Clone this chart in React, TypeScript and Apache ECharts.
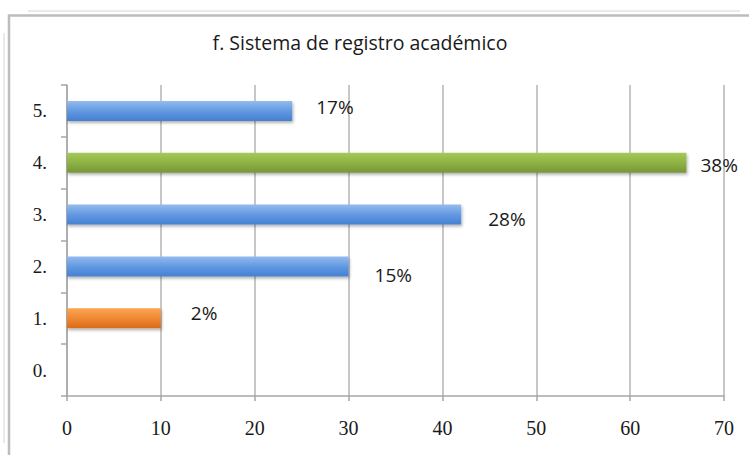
import React, { useEffect, useRef } from "react";
import * as echarts from "echarts";

const categories = ["0.", "1.", "2.", "3.", "4.", "5."];
const values = [0, 10, 30, 42, 66, 24];
const percentLabels = ["", "2%", "15%", "28%", "38%", "17%"];
const barKinds = ["blue", "orange", "blue", "blue", "green", "blue"];
const labelOffsets: [number, number][] = [
  [0, 0],
  [30, -5],
  [26, 9],
  [27, 4],
  [14, 2],
  [24, -4],
];
const xTicks = { min: 0, max: 70, interval: 10 };
const titleText = "f. Sistema de registro académico";

const gradients: Record<string, [string, string, string]> = {
  blue: ["#93bbef", "#5f96e0", "#4580d2"],
  green: ["#a6ca55", "#8cb043", "#76963a"],
  orange: ["#faa552", "#ef8530", "#d96b1c"],
};

export default function App() {
  const ref = useRef<HTMLDivElement>(null);
  useEffect(() => {
    if (!ref.current) return;
    const chart = echarts.init(ref.current, undefined, { renderer: "svg" });
    const data = values.map((v, i) => {
      const g = gradients[barKinds[i]];
      return {
        value: v,
        itemStyle: {
          color: new echarts.graphic.LinearGradient(0, 0, 0, 1, [
            { offset: 0, color: g[0] },
            { offset: 0.55, color: g[1] },
            { offset: 1, color: g[2] },
          ]),
        },
        label: {
          show: percentLabels[i] !== "",
          formatter: percentLabels[i],
          offset: labelOffsets[i],
        },
      };
    });
    chart.setOption({
      animation: false,
      backgroundColor: "#ffffff",
      graphic: [
        {
          type: "line",
          shape: { x1: 28, y1: 11, x2: 740, y2: 11 },
          style: { stroke: "#d4d4d4", lineWidth: 1 },
        },
        {
          type: "line",
          shape: { x1: 4, y1: 33, x2: 4, y2: 443 },
          style: { stroke: "#d4d4d4", lineWidth: 1 },
        },
        {
          type: "polyline",
          shape: { points: [[9, 455], [9, 15.5], [749, 15.5]] },
          style: { stroke: "#bdbdbd", lineWidth: 2.5, fill: "none" },
        },
        {
          type: "text",
          x: 360,
          y: 42,
          style: {
            text: titleText,
            fill: "#1a1a1a",
            font: "19.5px 'Open Sans', sans-serif",
            textAlign: "center",
            textVerticalAlign: "middle",
          },
        },
      ],
      grid: { left: 67, right: 25, top: 85, bottom: 59, containLabel: false },
      xAxis: {
        type: "value",
        min: xTicks.min,
        max: xTicks.max,
        interval: xTicks.interval,
        axisLine: { show: true, lineStyle: { color: "#a6a6a6", width: 1.5 } },
        axisTick: { show: true, length: 5, lineStyle: { color: "#a6a6a6", width: 1.5 } },
        axisLabel: {
          color: "#1a1a1a",
          fontFamily: "'Liberation Serif', serif",
          fontSize: 20,
          margin: 22,
        },
        splitLine: { show: true, lineStyle: { color: "#b5b5b5", width: 1.5 } },
      },
      yAxis: {
        type: "category",
        data: categories,
        axisLine: { show: true, lineStyle: { color: "#a6a6a6", width: 1.5 } },
        axisTick: { show: true, length: 6, alignWithLabel: false, lineStyle: { color: "#a6a6a6", width: 1.5 } },
        axisLabel: {
          color: "#1a1a1a",
          fontFamily: "'Liberation Serif', serif",
          fontSize: 19,
          margin: 20,
        },
        splitLine: { show: false },
      },
      series: [
        {
          type: "bar",
          data,
          barWidth: 20,
          itemStyle: {
            shadowBlur: 3,
            shadowColor: "rgba(0,0,0,0.3)",
            shadowOffsetX: 1,
            shadowOffsetY: 2,
          },
          label: {
            show: true,
            position: "right",
            distance: 0,
            color: "#1a1a1a",
            fontFamily: "'Open Sans', sans-serif",
            fontSize: 19,
          },
        },
      ],
    });
    return () => chart.dispose();
  }, []);
  return (
    <div
      ref={ref}
      style={{ position: "absolute", left: 0, top: 0, width: 749, height: 455 }}
    />
  );
}
